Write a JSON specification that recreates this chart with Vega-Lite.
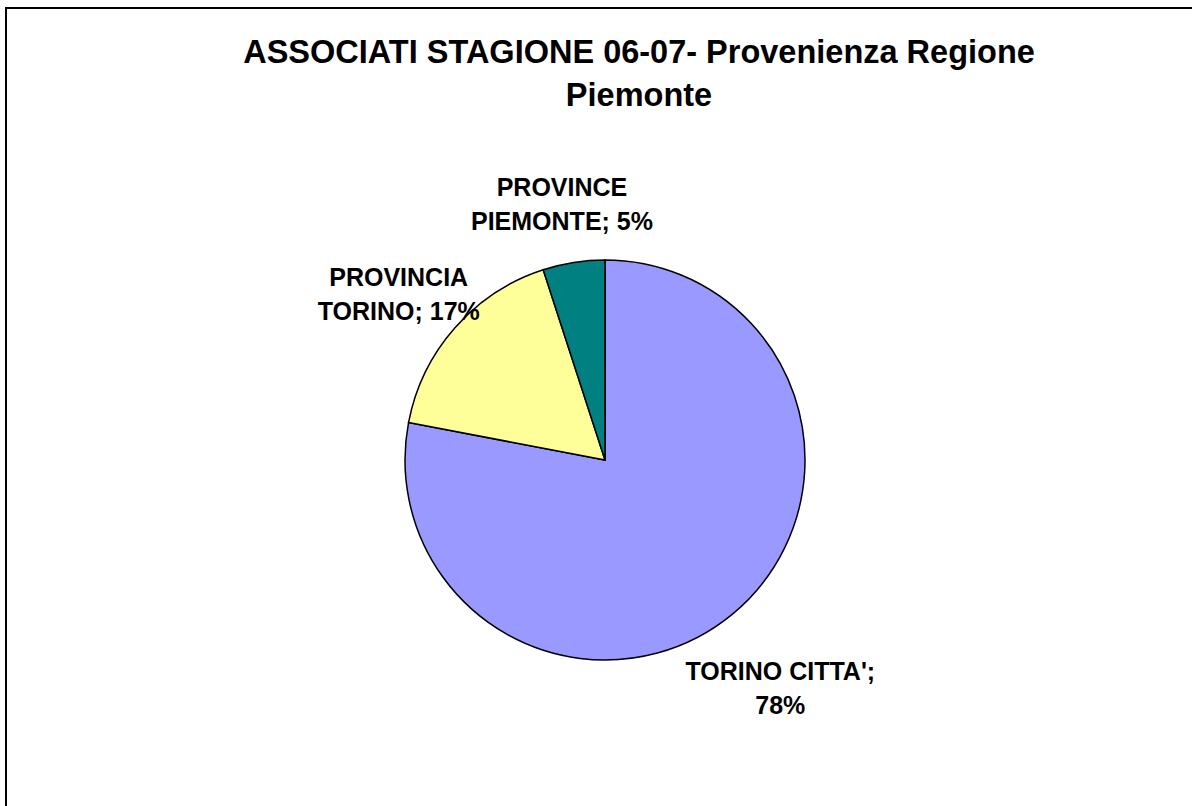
{
  "$schema": "https://vega.github.io/schema/vega-lite/v6.json",
  "width": 1192,
  "height": 806,
  "autosize": {"type": "fit", "contains": "padding"},
  "padding": {"left": 6, "top": 8, "right": -12, "bottom": -106},
  "background": "white",
  "view": {"stroke": "black", "strokeWidth": 2, "fill": "white"},
  "title": {
    "text": ["ASSOCIATI  STAGIONE 06-07- Provenienza Regione", "Piemonte"],
    "font": "Liberation Sans",
    "fontSize": 32.5,
    "fontWeight": "bold",
    "color": "black",
    "lineHeight": 43,
    "anchor": "middle",
    "frame": "group",
    "dx": 34,
    "offset": -104
  },
  "config": {
    "view": {"stroke": "black", "strokeWidth": 2},
    "text": {"font": "Liberation Sans"}
  },
  "data": {
    "values": [
      {"cat": "TORINO CITTA'", "pct": 78, "label": "TORINO CITTA';\n78%"},
      {"cat": "PROVINCIA TORINO", "pct": 17, "label": "PROVINCIA\nTORINO; 17%"},
      {"cat": "PROVINCE PIEMONTE", "pct": 5, "label": "PROVINCE\nPIEMONTE; 5%"}
    ]
  },
  "encoding": {
    "theta": {"field": "pct", "type": "quantitative", "stack": true},
    "order": {"field": "cat", "sort": "descending"}
  },
  "layer": [
    {
      "mark": {"type": "arc", "outerRadius": 200, "stroke": "black", "strokeWidth": 1.5},
      "encoding": {
        "color": {
          "field": "cat",
          "type": "nominal",
          "scale": {
            "domain": ["TORINO CITTA'", "PROVINCIA TORINO", "PROVINCE PIEMONTE"],
            "range": ["#9999FF", "#FFFF99", "#008080"]
          },
          "legend": null
        }
      }
    },
    {
      "mark": {
        "type": "text",
        "radius": 275,
        "fontSize": 25,
        "fontWeight": "bold",
        "lineHeight": 34,
        "align": "center",
        "baseline": "middle",
        "lineBreak": "\n",
        "color": "black"
      },
      "encoding": {
        "text": {"field": "label", "type": "nominal"}
      }
    }
  ]
}
